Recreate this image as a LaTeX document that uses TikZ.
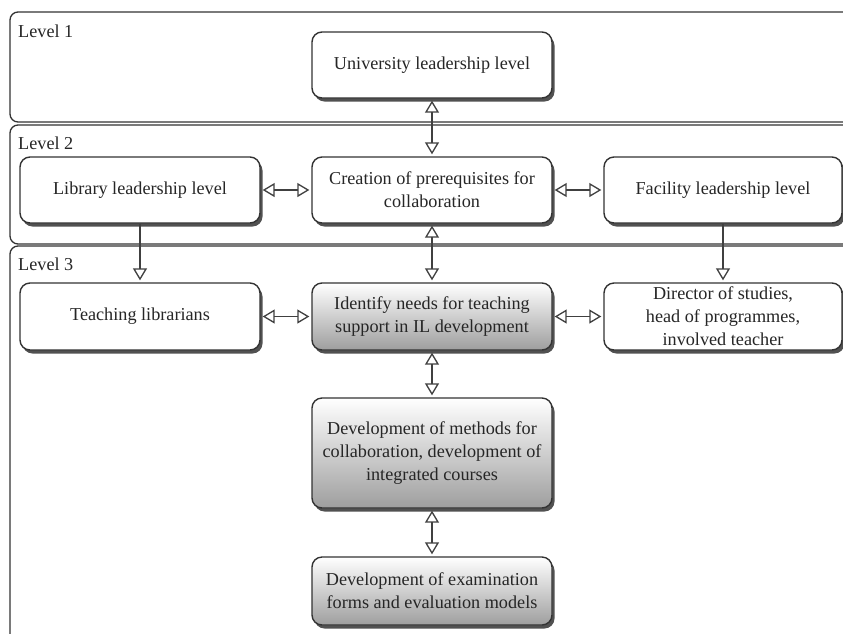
\documentclass[tikz,border=0pt]{standalone}
\usepackage{fontspec}
\setmainfont{Liberation Serif}
\usetikzlibrary{arrows.meta,shadows}
\begin{document}
\begin{tikzpicture}[x=1pt,y=-1pt,
  txt/.style={font=\fontsize{18.2}{23}\selectfont, text=black!85},
  frame/.style={draw=black!80, line width=1.3pt, rounded corners=8pt},
  lvl/.style={txt, anchor=base west, inner sep=0pt},
  box/.style={txt, draw=black!80, line width=1.4pt, rounded corners=10pt, fill=white,
    align=center, minimum width=240pt, minimum height=66pt, inner sep=1pt,
    drop shadow={shadow xshift=2.5pt, shadow yshift=-3.5pt, opacity=0.8, fill=black!85}},
  gbox/.style={box, top color=white, bottom color=black!38},
  dbl/.style={draw=black!75, line width=1.3pt, {Triangle[open, length=12pt, width=14pt]}-{Triangle[open, length=12pt, width=14pt]}, shorten <=2pt, shorten >=2pt},
  one/.style={draw=black!75, line width=1.3pt, -{Triangle[open, length=12pt, width=14pt]}, shorten >=2pt}
]
\useasboundingbox (0,0) rectangle (843,633);
\clip (0,0) rectangle (843,633);
\fill[white] (0,0) rectangle (843,633);
% level frames
\draw[frame] (10,12) rectangle (870,122);
\draw[frame] (10,125) rectangle (870,244);
\draw[frame] (10,246) rectangle (870,680);
\node[lvl] (l1) at (18,37.5) {Level 1};
\node[lvl] (l2) at (18,149) {Level 2};
\node[lvl] (l3) at (18,270) {Level 3};
% boxes
\node[box] (univ) at (432,65) {University leadership level};
\node[box] (lib) at (140,190) {Library leadership level};
\node[box] (creat) at (432,190) {Creation of prerequisites for\\collaboration};
\node[box, minimum width=238pt] (fac) at (723,190) {Facility leadership level};
\node[box, minimum height=67pt] (teach) at (140,316.5) {Teaching librarians};
\node[gbox, minimum height=67pt] (ident) at (432,316.5) {Identify needs for teaching\\support in IL development};
\node[box, minimum width=238pt, minimum height=67pt, inner sep=0pt] (dir) at (723,316.5) {Director of studies,\\head of programmes,\\involved teacher};
\node[gbox, minimum height=110pt] (meth) at (432,453) {Development of methods for\\collaboration, development of\\integrated courses};
\node[gbox, minimum height=68pt] (exam) at (432,591) {Development of examination\\forms and evaluation models};
% connectors
\draw[dbl] (univ) -- (creat);
\draw[dbl] (lib) -- (creat);
\draw[dbl] (creat) -- (fac);
\draw[dbl] (creat) -- (ident);
\draw[one] (lib) -- (teach);
\draw[one] (fac) -- (dir);
\draw[dbl] (teach) -- (ident);
\draw[dbl] (ident) -- (dir);
\draw[dbl] (ident) -- (meth);
\draw[dbl] (meth) -- (exam);
\end{tikzpicture}
\end{document}
